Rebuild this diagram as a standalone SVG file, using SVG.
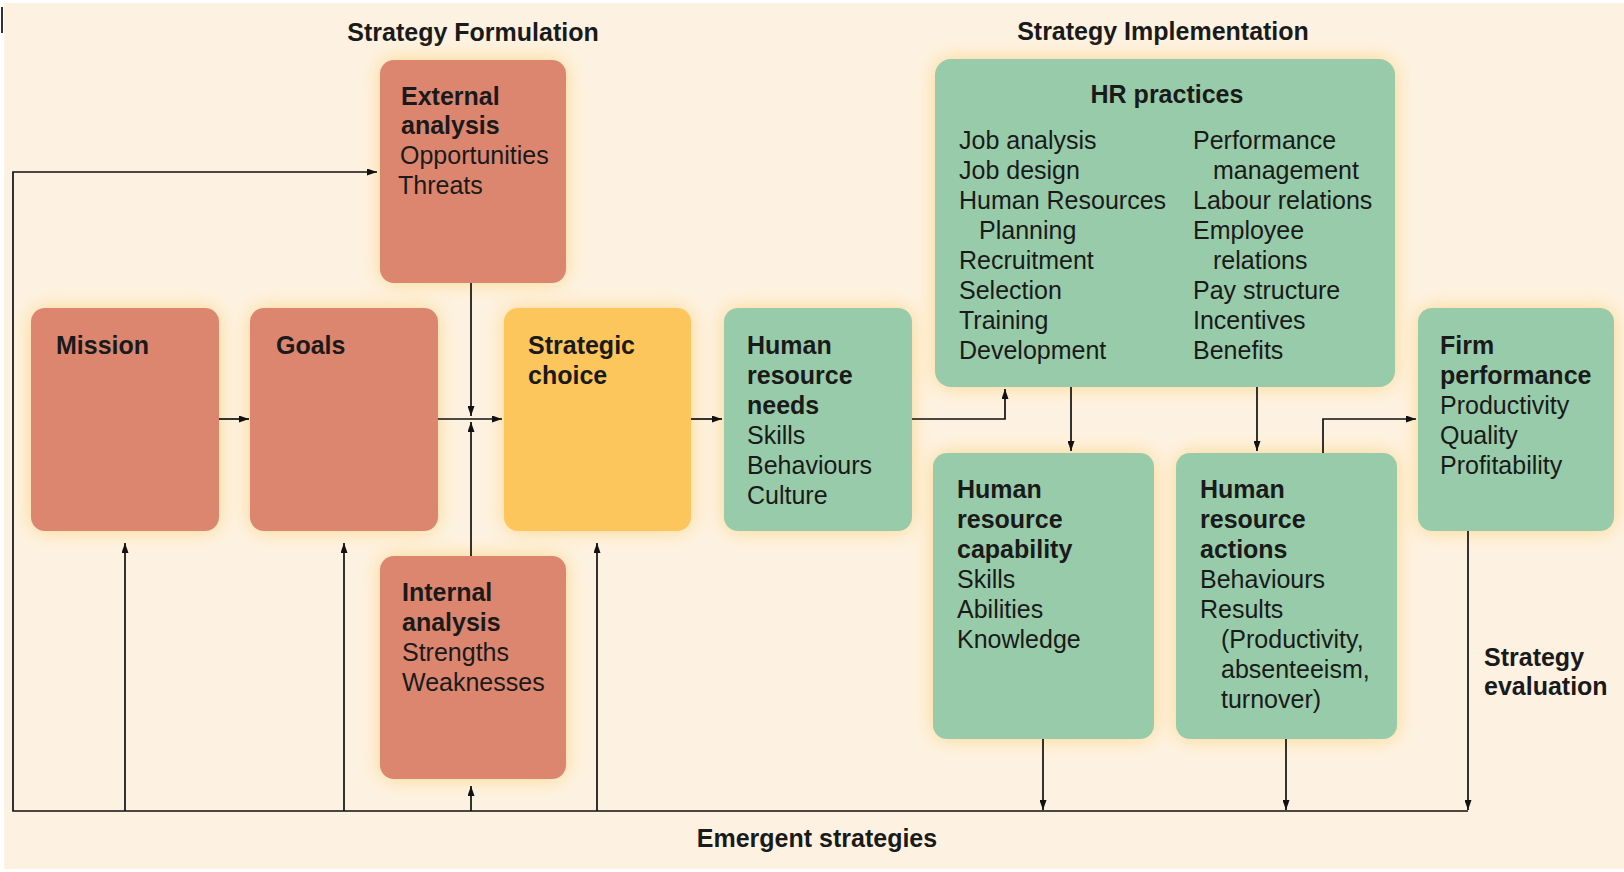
<svg xmlns="http://www.w3.org/2000/svg" width="1624" height="872" viewBox="0 0 1624 872">
<defs>
<style>
text{font-family:"Liberation Sans",Arial,sans-serif;font-size:25px;fill:#1a1a1a}
.b{font-weight:bold}
.red{fill:#dc8670}
.yel{fill:#fdc65c}
.grn{fill:#98cba9}
.glow{fill:#fbd17e;opacity:0.85;filter:url(#blur)}
.ln{fill:none;stroke:#111;stroke-width:1.7}
</style>
<filter id="blur" x="-30%" y="-30%" width="160%" height="160%"><feGaussianBlur stdDeviation="10"/></filter>
<marker id="ah" viewBox="0 0 10 7" refX="10" refY="3.5" markerWidth="10" markerHeight="7" markerUnits="userSpaceOnUse" orient="auto"><path d="M0,0 L10,3.5 L0,7 z" fill="#111"/></marker>
</defs>
<rect x="0" y="0" width="1624" height="872" fill="#ffffff"/>
<rect x="4" y="3" width="1620" height="866" fill="#fdf2e1"/>
<line x1="2" y1="7" x2="2" y2="33" stroke="#333" stroke-width="2"/>

<text class="b" x="473" y="41" text-anchor="middle">Strategy Formulation</text>
<text class="b" x="1163" y="40" text-anchor="middle">Strategy Implementation</text>
<text class="b" x="817" y="847" text-anchor="middle">Emergent strategies</text>
<text class="b" x="1484" y="666">Strategy</text>
<text class="b" x="1484" y="695">evaluation</text>

<g id="external">
<rect class="glow" x="380" y="60" width="186" height="223" rx="14"/>
<rect class="red" x="380" y="60" width="186" height="223" rx="14"/>
<text class="b" x="401" y="105">External</text>
<text class="b" x="401" y="134">analysis</text>
<text x="400" y="164">Opportunities</text>
<text x="398" y="194">Threats</text>
</g>
<g id="mission">
<rect class="glow" x="31" y="308" width="188" height="223" rx="14"/>
<rect class="red" x="31" y="308" width="188" height="223" rx="14"/>
<text class="b" x="56" y="354">Mission</text>
</g>
<g id="goals">
<rect class="glow" x="250" y="308" width="188" height="223" rx="14"/>
<rect class="red" x="250" y="308" width="188" height="223" rx="14"/>
<text class="b" x="276" y="354">Goals</text>
</g>
<g id="strategic-choice">
<rect class="glow" x="504" y="308" width="187" height="223" rx="14"/>
<rect class="yel" x="504" y="308" width="187" height="223" rx="14"/>
<text class="b" x="528" y="354">Strategic</text>
<text class="b" x="528" y="384">choice</text>
</g>
<g id="hr-needs">
<rect class="glow" x="724" y="308" width="188" height="223" rx="14"/>
<rect class="grn" x="724" y="308" width="188" height="223" rx="14"/>
<text class="b" x="747" y="354">Human</text>
<text class="b" x="747" y="384">resource</text>
<text class="b" x="747" y="414">needs</text>
<text x="747" y="444">Skills</text>
<text x="747" y="474">Behaviours</text>
<text x="747" y="504">Culture</text>
</g>
<g id="internal">
<rect class="glow" x="380" y="556" width="186" height="223" rx="14"/>
<rect class="red" x="380" y="556" width="186" height="223" rx="14"/>
<text class="b" x="402" y="601">Internal</text>
<text class="b" x="402" y="631">analysis</text>
<text x="402" y="661">Strengths</text>
<text x="402" y="691">Weaknesses</text>
</g>
<g id="hr-practices">
<rect class="glow" x="935" y="59" width="460" height="328" rx="16"/>
<rect class="grn" x="935" y="59" width="460" height="328" rx="16"/>
<text class="b" x="1167" y="103" text-anchor="middle">HR practices</text>
<text x="959" y="149">Job analysis</text>
<text x="959" y="179">Job design</text>
<text x="959" y="209">Human Resources</text>
<text x="979" y="239">Planning</text>
<text x="959" y="269">Recruitment</text>
<text x="959" y="299">Selection</text>
<text x="959" y="329">Training</text>
<text x="959" y="359">Development</text>
<text x="1193" y="149">Performance</text>
<text x="1213" y="179">management</text>
<text x="1193" y="209">Labour relations</text>
<text x="1193" y="239">Employee</text>
<text x="1213" y="269">relations</text>
<text x="1193" y="299">Pay structure</text>
<text x="1193" y="329">Incentives</text>
<text x="1193" y="359">Benefits</text>
</g>
<g id="hr-capability">
<rect class="glow" x="933" y="453" width="221" height="286" rx="14"/>
<rect class="grn" x="933" y="453" width="221" height="286" rx="14"/>
<text class="b" x="957" y="498">Human</text>
<text class="b" x="957" y="528">resource</text>
<text class="b" x="957" y="558">capability</text>
<text x="957" y="588">Skills</text>
<text x="957" y="618">Abilities</text>
<text x="957" y="648">Knowledge</text>
</g>
<g id="hr-actions">
<rect class="glow" x="1176" y="453" width="221" height="286" rx="14"/>
<rect class="grn" x="1176" y="453" width="221" height="286" rx="14"/>
<text class="b" x="1200" y="498">Human</text>
<text class="b" x="1200" y="528">resource</text>
<text class="b" x="1200" y="558">actions</text>
<text x="1200" y="588">Behaviours</text>
<text x="1200" y="618">Results</text>
<text x="1221" y="648">(Productivity,</text>
<text x="1221" y="678">absenteeism,</text>
<text x="1221" y="708">turnover)</text>
</g>
<g id="firm-performance">
<rect class="glow" x="1418" y="308" width="196" height="223" rx="14"/>
<rect class="grn" x="1418" y="308" width="196" height="223" rx="14"/>
<text class="b" x="1440" y="354">Firm</text>
<text class="b" x="1440" y="384">performance</text>
<text x="1440" y="414">Productivity</text>
<text x="1440" y="444">Quality</text>
<text x="1440" y="474">Profitability</text>
</g>

<g id="connectors">
<path class="ln" d="M1468,811 H13 V172 H377" marker-end="url(#ah)"/>
<path class="ln" d="M125,811 V543" marker-end="url(#ah)"/>
<path class="ln" d="M344,811 V543" marker-end="url(#ah)"/>
<path class="ln" d="M471,811 V786" marker-end="url(#ah)"/>
<path class="ln" d="M597,811 V543" marker-end="url(#ah)"/>
<path class="ln" d="M1043,739 V810" marker-end="url(#ah)"/>
<path class="ln" d="M1286,739 V810" marker-end="url(#ah)"/>
<path class="ln" d="M1468,531 V810" marker-end="url(#ah)"/>
<path class="ln" d="M219,419 H249" marker-end="url(#ah)"/>
<path class="ln" d="M438,419 H502" marker-end="url(#ah)"/>
<path class="ln" d="M471,283 V416" marker-end="url(#ah)"/>
<path class="ln" d="M471,556 V422" marker-end="url(#ah)"/>
<path class="ln" d="M691,419 H722" marker-end="url(#ah)"/>
<path class="ln" d="M912,419 H1005 V389" marker-end="url(#ah)"/>
<path class="ln" d="M1071,387 V451" marker-end="url(#ah)"/>
<path class="ln" d="M1257,387 V451" marker-end="url(#ah)"/>
<path class="ln" d="M1323,453 V419 H1416" marker-end="url(#ah)"/>
</g>
</svg>
